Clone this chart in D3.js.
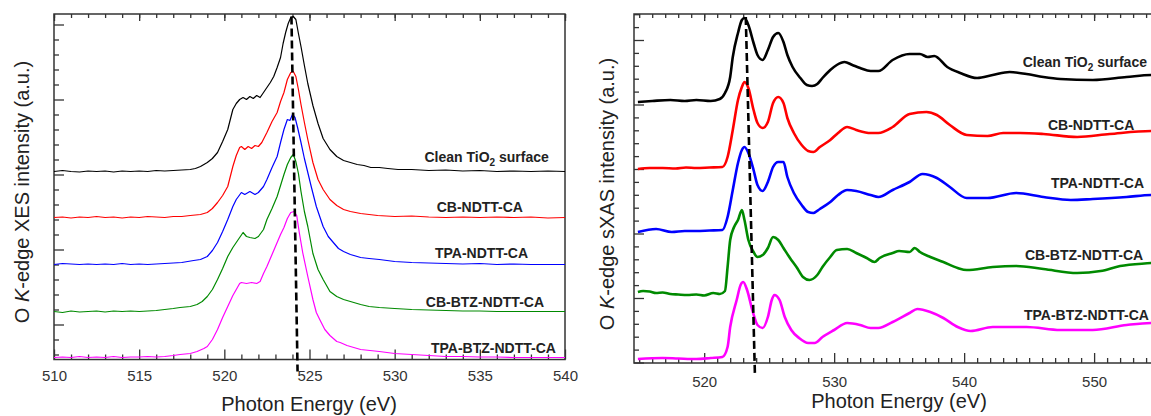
<!DOCTYPE html>
<html><head><meta charset="utf-8">
<script src="https://cdn.jsdelivr.net/npm/d3@7"></script>
<style>
body{margin:0;background:#fff;}
svg{display:block;font-family:"Liberation Sans",Arial,Helvetica,sans-serif;}
</style>
</head><body>
<svg id="chart" width="1151" height="416"></svg>
<script>
// ---------------- DATA ----------------
const seriesNames = ["Clean TiO2 surface", "CB-NDTT-CA", "TPA-NDTT-CA", "CB-BTZ-NDTT-CA", "TPA-BTZ-NDTT-CA"];

// O K-edge XES (left), [photon energy eV, intensity a.u. above own baseline]
const xesOffsets = [153, 107, 60, 13, -33];
const xesClean = [[510,0],[510.5,1],[511,0],[511.5,-0.5],[512,0.5],[512.5,0],[513,0.5],[513.5,-0.5],[514,0.5],[514.5,0],[515,0.5],[515.5,0],[516,1],[516.5,0.5],[517,1],[517.5,1.5],[518,2],[518.3,3],[518.6,5],[519,9],[519.3,13],[519.6,19],[519.9,30],[520.2,42],[520.5,62],[520.7,68],[520.9,72],[521.1,74],[521.3,72],[521.5,75],[521.7,73],[521.9,76],[522.1,74],[522.3,79],[522.5,84],[522.7,89],[522.9,95],[523.1,104],[523.3,114],[523.45,128],[523.6,139],[523.75,148],[523.9,154],[524.05,155],[524.2,152],[524.35,138],[524.5,125],[524.7,106],[524.9,88],[525.2,66],[525.5,48],[525.8,33],[526.2,22],[526.6,15],[527,11],[527.4,9],[527.8,7],[528.2,6],[528.6,4],[529.1,4],[529.6,3],[530.2,2],[531,2],[532,1],[533,1.5],[534,0.5],[535,1],[536,0],[537,0.5],[538,0],[539,0.5],[540,0]];
const xesCB = [[510,0],[510.5,0.5],[511,-0.5],[511.5,0.5],[512,0],[512.5,1],[513,0],[513.5,0.5],[514,-0.5],[514.5,0.5],[515,0],[515.5,1],[516,0.5],[516.5,0],[517,1],[517.5,1],[518,2],[518.6,3],[519,5],[519.3,9],[519.6,15],[519.9,22],[520.2,31],[520.5,51],[520.7,62],[520.9,70],[521,71],[521.2,68],[521.4,71],[521.6,69],[521.8,72],[522,71],[522.2,75],[522.5,85],[522.8,96],[523.1,105],[523.3,116],[523.5,125],[523.7,138],[523.9,145],[524.05,146],[524.2,141],[524.35,128],[524.5,113],[524.7,95],[524.9,78],[525.2,55],[525.5,38],[525.8,28],[526.2,18],[526.6,12],[527,8],[527.4,6],[528,4],[528.5,3],[529,2],[530,1],[531,1.5],[532,0.5],[533,0],[534,0.5],[535,0],[536,0.5],[537,0],[538,0.5],[539,-0.5],[540,0]];
const xesTPA = [[510,0],[510.5,1],[511,0.5],[511.5,0],[512,0.5],[512.5,0],[513,0.5],[513.5,0],[514,1],[514.5,0],[515,0.5],[515.5,0],[516,0.5],[516.5,1],[517,1.5],[517.5,2],[518.2,4],[518.6,5],[519,8],[519.3,14],[519.6,22],[519.9,33],[520.2,45],[520.5,58],[520.7,65],[521,72],[521.2,70],[521.5,73],[521.8,70],[522,72],[522.3,78],[522.5,85],[522.8,97],[523.1,108],[523.3,122],[523.5,135],[523.7,145],[523.85,144],[524,150],[524.15,147],[524.3,137],[524.5,122],[524.7,106],[524.9,92],[525.1,78],[525.4,58],[525.8,38],[526.1,28],[526.4,22],[526.7,16],[527,13],[527.4,10],[528,7],[528.5,6],[529.1,5],[530,3],[531,2],[532,1.5],[533,1],[534,0.5],[535,1],[536,0],[537,0.5],[538,0],[539,0],[540,0]];
const xesCBBTZ = [[510,0],[510.5,-1],[511,0.5],[511.5,-0.5],[512,0],[512.5,0.5],[513,-0.5],[513.5,0.5],[514,0],[514.5,0.5],[515,0],[515.5,0.5],[516,1],[516.5,2],[517,3],[517.4,4],[518,5],[518.4,7],[518.7,10],[519,15],[519.3,22],[519.6,32],[519.9,43],[520.2,55],[520.5,64],[520.7,69],[520.9,74],[521.1,79],[521.3,75],[521.5,74],[521.8,73],[522,75],[522.3,82],[522.5,92],[522.8,103],[523.1,115],[523.3,126],[523.5,137],[523.7,147],[523.9,154],[524.05,157],[524.2,150],[524.35,138],[524.5,120],[524.7,100],[524.9,85],[525.2,58],[525.5,42],[525.8,32],[526.2,20],[526.6,15],[527,12],[527.4,10],[528,7],[528.5,5],[529.1,4],[530,3],[531,2],[532,1.5],[533,1],[534,0.5],[535,0.5],[536,0],[537,0],[538,0],[539,0],[540,0]];
const xesTPABTZ = [[510,0],[510.5,0.5],[511,0],[511.5,1],[512,0],[512.5,0.5],[513,0],[513.5,1],[514,0],[514.5,0.5],[515,0.5],[515.5,1],[516,0.5],[516.5,1],[517,2],[517.4,3],[518,4],[518.4,6],[518.8,9],[519,11],[519.3,18],[519.6,28],[519.9,40],[520.2,51],[520.5,62],[520.7,68],[520.9,74],[521,75],[521.3,74],[521.6,75],[521.9,74],[522.1,76],[522.3,84],[522.5,91],[522.8,103],[523.1,115],[523.3,123],[523.5,130],[523.7,139],[523.9,145],[524.1,146],[524.25,142],[524.4,125],[524.6,105],[524.9,81],[525.2,58],[525.4,45],[525.6,38],[525.9,28],[526.2,22],[526.6,16],[526.8,15],[527.2,12],[527.4,11],[528,8],[529.1,6],[530,4],[531,3],[532,2],[533,1],[534,1],[535,0.5],[536,0.5],[537,0],[538,0],[539,0],[540,0]];

// O K-edge sXAS (right)
const xasOffsets = [260, 194, 131, 69, 4];
const xasClean = [[514.9,0],[516,1],[517.4,2],[518.5,1],[519.4,2],[520.5,1],[521.2,3],[521.6,9],[522.0,25],[522.2,45],[522.6,69],[522.9,82],[523.1,84],[523.4,77],[523.8,59],[524.1,47],[524.5,42],[524.9,52],[525.3,65],[525.7,69],[526.1,60],[526.4,47],[526.8,35],[527.4,24],[527.9,17],[528.3,16],[528.7,18],[529.1,24],[529.7,32],[530.2,37],[530.8,40],[531.4,37],[532.0,34],[532.8,31],[533.4,31],[534.5,42],[535.8,48],[536.6,48],[537.2,45],[537.7,46],[538.7,35],[539.7,29],[541.0,24],[542.2,27],[543.5,30],[544.8,28],[546.1,25],[547.4,23],[549.9,22],[552.5,25],[554.4,27],[555.3,27]];
const xasCB = [[514.9,-1],[515.8,0],[516.8,0],[517.8,-0.5],[518.6,0.5],[519.4,0],[520.4,0.5],[521.4,1],[521.8,11],[522.2,38],[522.6,68],[522.9,81],[523.1,86],[523.4,80],[523.8,58],[524.1,45],[524.5,40],[524.9,46],[525.3,65],[525.7,71],[526.1,65],[526.4,50],[526.9,35],[527.5,23],[528.0,17],[528.4,16],[528.9,21],[529.7,28],[530.3,35],[531.0,41],[531.7,38],[532.8,35],[533.4,35],[534.5,41],[535.8,54],[537.1,56],[537.9,53],[538.9,43],[540.2,33],[541.8,32],[543.0,35],[544.3,35],[546.1,34],[548.7,31],[551.2,34],[554.4,37],[555.3,37]];
const xasTPA = [[514.9,-1],[516.3,2],[517.5,-1],[518.5,0],[519.4,0],[520.4,0.5],[521.4,1],[521.8,14],[522.2,41],[522.6,68],[522.9,81],[523.1,84],[523.4,78],[523.8,61],[524.1,46],[524.5,40],[524.9,49],[525.3,64],[525.7,69],[526.1,69],[526.4,54],[526.9,38],[527.5,26],[528.0,19],[528.4,18],[528.9,22],[529.7,29],[530.3,36],[531.0,41],[531.7,40],[532.8,36],[533.4,34],[534.5,41],[535.8,49],[536.8,57],[537.9,53],[538.9,44],[540.2,33],[541.8,33],[544.0,38],[546.1,34],[548.2,31],[549.9,32],[552.5,34],[554.4,36],[555.3,36]];
const xasCBBTZ = [[514.9,1],[515.3,2],[515.8,1.5],[516.3,0],[516.8,0.5],[517.4,-1],[518.0,-1.5],[518.7,-2],[519.4,-1.5],[520.0,-2.5],[520.7,0],[521.2,-1],[521.6,2],[521.8,26],[522.0,53],[522.3,66],[522.6,73],[522.9,83],[523.1,73],[523.4,53],[523.8,41],[524.1,36],[524.5,38],[524.9,45],[525.3,56],[525.7,53],[526.1,45],[526.6,35],[527.1,26],[527.6,16],[528.1,13],[528.7,18],[529.1,26],[529.7,36],[530.2,43],[531.0,44],[531.7,40],[532.5,35],[533.1,31],[533.5,35],[534.5,40],[535.0,42],[535.8,41],[536.2,45],[536.6,41],[537.4,36],[538.4,31],[539.5,25],[540.2,23],[542.2,26],[544.0,27],[546.1,24],[548.7,20],[550.5,22],[552.0,27],[554.4,30],[555.3,31]];
const xasTPABTZ = [[514.9,-1],[516.8,0],[518,-0.5],[519.4,-1],[520.5,0],[521.4,1],[521.8,11],[522.0,31],[522.5,58],[522.8,73],[523.0,76],[523.3,68],[523.7,48],[524.1,33],[524.5,30],[524.9,41],[525.2,58],[525.4,63],[525.8,58],[526.2,41],[526.7,28],[527.3,20],[528.0,15],[528.5,15],[529.1,21],[530.0,28],[531.0,35],[532.0,33],[532.8,30],[533.4,30],[534.5,36],[535.8,45],[536.4,49],[537.4,46],[538.4,40],[539.5,31],[540.5,27],[542.2,31],[544.8,31],[547.4,28],[549.9,28],[552.5,33],[554.4,35],[555.3,35]];

// x tick labels
const xesTickLabels = [510, 515, 520, 525, 530, 535, 540];
const xasTickLabels = [520, 530, 540, 550];

// label anchors [energy, intensity]
const xesLabelPos = [[535.4,163],[535.0,113],[535.1,67],[535.3,18],[535.8,-28]];
const xasLabelPos = [[544.5,295],[546.45,232],[546.68,174],[544.68,102],[544.6,42]];

// dashed marker lines [energy, intensity] endpoints
const xesDash = [[523.94,308],[524.3,-47]];
const xasDash = [[523.2,345],[523.9,-11]];

// ---------------- DRAWING ----------------
const colors = ["#000000", "#ff0000", "#0000ff", "#008a00", "#ff00ff"];
const axisColor = "#333";
const svg = d3.select("#chart");

function drawPanel(p) {
  const g = svg.append("g");
  const x = d3.scaleLinear().domain(p.xDomain).range(p.xRange);
  const y = d3.scaleLinear().domain(p.yDomain).range(p.yRange);
  const [x0, x1] = p.xRange; const [yb, yt] = p.yRange;

  const styleAxis = sel => {
    sel.attr("font-family", null).attr("font-size", null);
    sel.select(".domain").remove();
    sel.selectAll("line").attr("stroke", axisColor).attr("stroke-width", 1.3);
    sel.selectAll("text").attr("fill", "#333").style("font-size", "15px");
  };

  const xMinor = d3.range(Math.ceil(p.xDomain[0]), Math.floor(p.xDomain[1]) + 1);
  const xMajor = xMinor.filter(v => v % p.xMajorStep === 0);

  g.append("g").attr("transform", `translate(0,${yb})`)
    .call(d3.axisBottom(x).tickValues(xMinor.filter(v => v % p.xMajorStep !== 0)).tickSize(-5).tickFormat(""))
    .call(styleAxis);
  g.append("g").attr("transform", `translate(0,${yb})`)
    .call(d3.axisBottom(x).tickValues(xMajor).tickSize(-10).tickPadding(p.labelPad).tickFormat(v => p.xLabels.includes(v) ? String(v) : ""))
    .call(styleAxis);
  g.append("g").attr("transform", `translate(0,${yt})`)
    .call(d3.axisTop(x).tickValues(xMinor).tickSize(-4).tickFormat(""))
    .call(styleAxis);
  g.append("g").attr("transform", `translate(0,${yt})`)
    .call(d3.axisTop(x).tickValues(xMajor).tickSize(-7).tickFormat(""))
    .call(styleAxis);
  const yTicks = d3.range(0, p.yTickCount).map(k => p.yTickStart + k * p.yTickStep);
  g.append("g").attr("transform", `translate(${x0},0)`)
    .call(d3.axisLeft(y).tickValues(yTicks.filter((v, k) => k % 5 !== p.yMajorPhase)).tickSize(-5).tickFormat(""))
    .call(styleAxis);
  g.append("g").attr("transform", `translate(${x0},0)`)
    .call(d3.axisLeft(y).tickValues(yTicks.filter((v, k) => k % 5 === p.yMajorPhase)).tickSize(-10).tickFormat(""))
    .call(styleAxis);

  g.append("rect").attr("x", x0).attr("y", yt).attr("width", x1 - x0).attr("height", yb - yt)
    .attr("fill", "none").attr("stroke", axisColor).attr("stroke-width", 1.5);

  const line = d3.line().curve(p.curve);
  p.series.forEach((s, i) => {
    g.append("path")
      .attr("d", line(s.map(d => [x(d[0]), y(d[1] + p.offsets[i])])))
      .attr("fill", "none").attr("stroke", colors[i]).attr("stroke-width", p.lineWidth)
      .attr("stroke-linejoin", "round");
  });

  g.append("path").attr("d", d3.line()(p.dash.map(d => [x(d[0]), y(d[1])])))
    .attr("stroke", "#000").attr("stroke-width", 2.6).attr("stroke-dasharray", "8,4").attr("fill", "none");

  seriesNames.forEach((name, i) => {
    const [e, v] = p.labelPos[i];
    const t = g.append("text").attr("x", x(e)).attr("y", y(v))
      .attr("text-anchor", p.labelAnchor).attr("font-weight", "bold").attr("font-size", "14px").attr("fill", "#222");
    if (name.includes("TiO2")) {
      t.append("tspan").text("Clean TiO");
      t.append("tspan").text("2").attr("font-size", "10px").attr("dy", 4);
      t.append("tspan").text(" surface").attr("dy", -4);
    } else t.text(name);
  });

  svg.append("text").attr("x", p.xTitle[0]).attr("y", p.xTitle[1]).attr("text-anchor", "middle")
    .attr("font-size", "20px").attr("fill", "#222").text("Photon Energy (eV)");
  const yt2 = svg.append("text").attr("transform", `translate(${p.yTitle[0]},${p.yTitle[1]}) rotate(-90)`)
    .attr("text-anchor", "middle").attr("font-size", "20px").attr("fill", "#222");
  yt2.append("tspan").text("O ");
  yt2.append("tspan").text("K").attr("font-style", "italic");
  yt2.append("tspan").text(p.yTitleText);
}

drawPanel({
  xDomain: [510, 540], xRange: [54, 565],
  yDomain: [-35, 310.5], yRange: [359.5, 14],
  xMajorStep: 5, xLabels: xesTickLabels, labelPad: 11,
  yTickStart: -30, yTickStep: 15, yTickCount: 23, yMajorPhase: 2,
  series: [xesClean, xesCB, xesTPA, xesCBBTZ, xesTPABTZ], offsets: xesOffsets,
  curve: d3.curveLinear, lineWidth: 1.2,
  dash: xesDash, labelPos: xesLabelPos, labelAnchor: "middle",
  xTitle: [309, 411], yTitle: [29, 192], yTitleText: "-edge XES intensity (a.u.)"
});

drawPanel({
  xDomain: [514.6, 555.3], xRange: [634, 1163],
  yDomain: [-1, 348], yRange: [363, 14],
  xMajorStep: 10, xLabels: xasTickLabels, labelPad: 13,
  yTickStart: -0.5, yTickStep: 12.9, yTickCount: 28, yMajorPhase: 0,
  series: [xasClean, xasCB, xasTPA, xasCBBTZ, xasTPABTZ], offsets: xasOffsets,
  curve: d3.curveMonotoneX, lineWidth: 2.6,
  dash: xasDash, labelPos: xasLabelPos, labelAnchor: "start",
  xTitle: [899, 408], yTitle: [614, 194], yTitleText: "-edge sXAS intensity (a.u.)"
});
</script>
</body></html>
